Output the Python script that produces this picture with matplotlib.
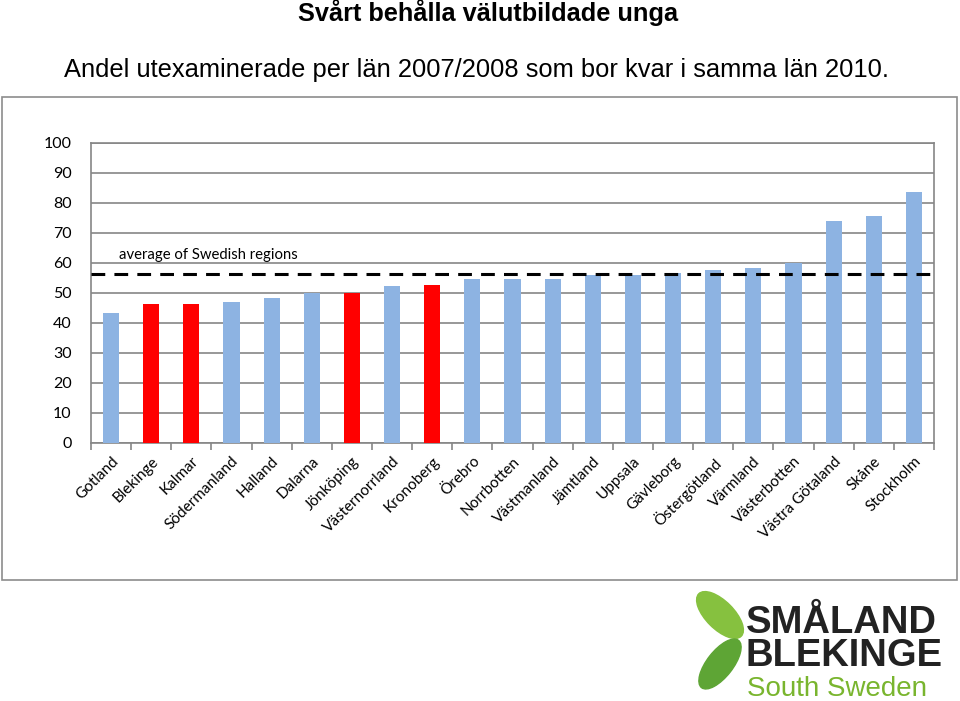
import matplotlib.pyplot as plt
from matplotlib.patches import Rectangle, Ellipse

regions = ["Gotland", "Blekinge", "Kalmar", "Södermanland", "Halland", "Dalarna",
           "Jönköping", "Västernorrland", "Kronoberg", "Örebro", "Norrbotten",
           "Västmanland", "Jämtland", "Uppsala", "Gävleborg", "Östergötland",
           "Värmland", "Västerbotten", "Västra Götaland", "Skåne", "Stockholm"]
share = [43.2, 46.4, 46.4, 46.9, 48.2, 49.9, 50.1, 52.3, 52.8, 54.6, 54.6,
         54.6, 55.9, 56.1, 56.8, 57.8, 58.2, 60.0, 74.1, 75.8, 83.7]
highlight = ["Blekinge", "Kalmar", "Jönköping", "Kronoberg"]
average = 56.2

blue = "#8DB3E2"
red = "#FF0000"
grey = "#868686"
label_font = "Lato"

fig = plt.figure(figsize=(9.6, 7.01), dpi=100)

# outer chart frame
fig.patches.append(Rectangle((2 / 960, 121 / 701), 955 / 960, 483 / 701,
                             transform=fig.transFigure, fill=False,
                             edgecolor="#8C8C8C", lw=1.2))

fig.text(488 / 960, 1 - 13 / 701, "Svårt behålla välutbildade unga",
         ha="center", va="center", fontsize=18.3, fontweight="bold",
         family="Liberation Sans")
fig.text(64 / 960, 1 - 70 / 701,
         "Andel utexaminerade per län 2007/2008 som bor kvar i samma län 2010.",
         ha="left", va="center", fontsize=18.4, family="Liberation Sans")

ax = fig.add_axes([91 / 960, 258 / 701, 843 / 960, 300 / 701])
x = range(len(regions))
colors = [red if r in highlight else blue for r in regions]
ax.bar(x, share, width=0.4, color=colors, zorder=3)

ax.set_xlim(-0.5, len(regions) - 0.5)
ax.set_ylim(0, 100)
ax.set_yticks(range(0, 101, 10))
ax.yaxis.grid(True, color=grey, lw=1.2, zorder=0)
for s in ax.spines.values():
    s.set_color(grey)
    s.set_linewidth(1.2)

ax.plot([-0.5, len(regions) - 0.45], [average, average], ls=(0, (4.5, 3)),
        color="black", lw=2.2, zorder=4, clip_on=False)
ax.text(0.2, 62.8, "average of Swedish regions", fontsize=10.7,
        family=label_font, ha="left", va="center", zorder=5)

ax.set_xticks(list(x))
ax.set_xticklabels(regions, rotation=45, ha="right", rotation_mode="anchor",
                   fontsize=11, family=label_font)
ax.tick_params(axis="x", length=0, pad=8)
ax.set_xticks([i - 0.5 for i in range(len(regions) + 1)], minor=True)
ax.tick_params(axis="x", which="minor", length=5, color=grey, width=1.2)
ax.tick_params(axis="y", length=0, pad=14, labelsize=11.5)
for lab in ax.get_yticklabels():
    lab.set_family(label_font)

# logo
lg = fig.add_axes([690 / 960, 0, 270 / 960, 120 / 701])
lg.set_xlim(690, 960)
lg.set_ylim(701, 581)
lg.axis("off")
lg.add_patch(Ellipse((720, 615), 60, 28, angle=45, color="#86C13F"))
lg.add_patch(Ellipse((720, 664), 60, 26, angle=-52, color="#5EA535"))
lg.text(746, 666, "SMÅLAND\nBLEKINGE", fontsize=27.5, fontweight="bold",
        family="Liberation Sans", color="#222222", va="baseline", ha="left",
        linespacing=0.88)
lg.text(747, 696, "South Sweden", fontsize=20, family="Liberation Sans",
        color="#79B52E", va="baseline", ha="left")

fig.savefig("out.png", dpi=100)
